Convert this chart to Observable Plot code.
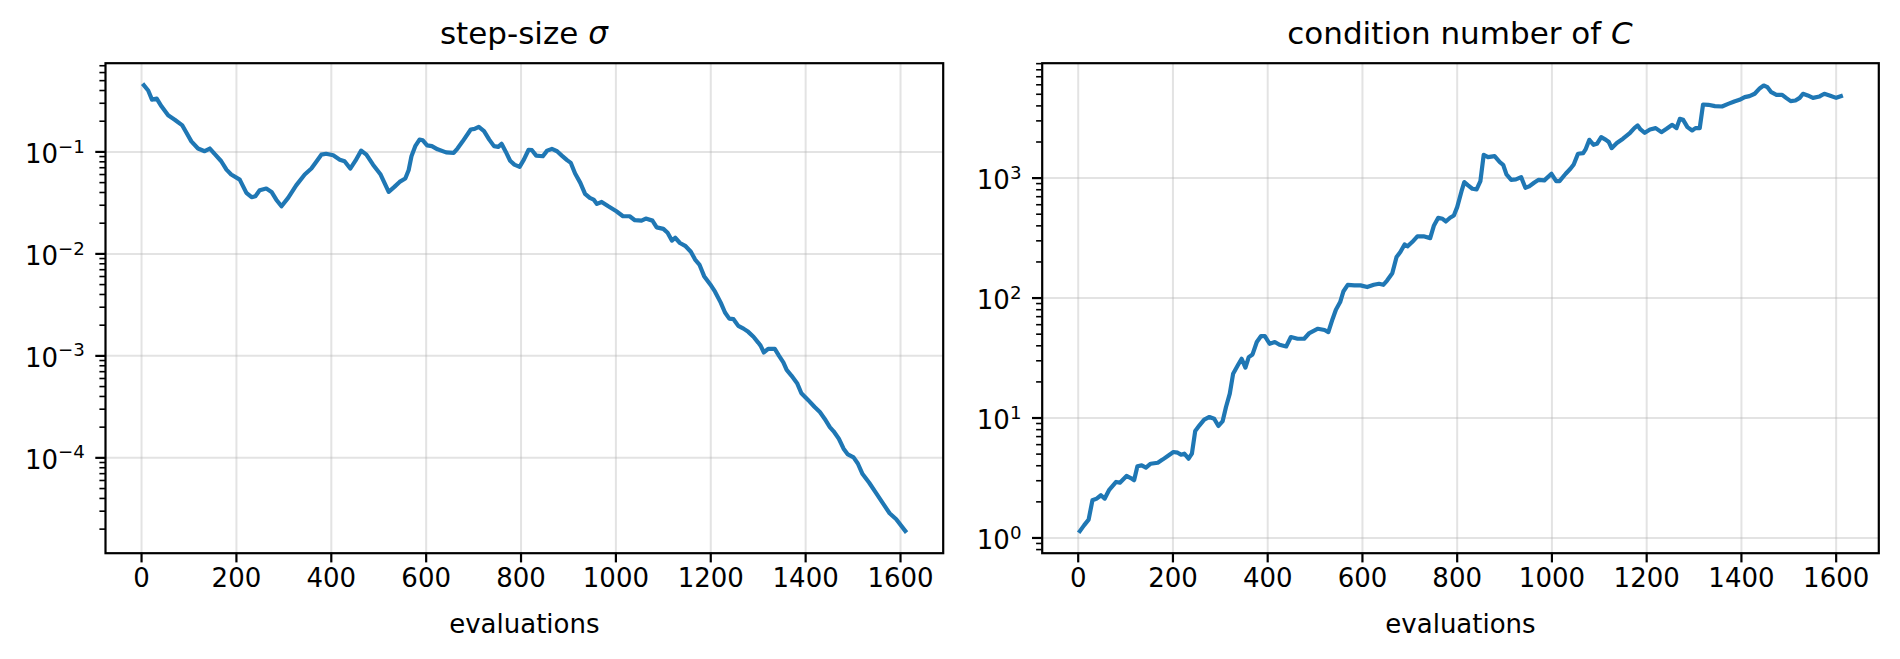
<!DOCTYPE html>
<html>
<head>
<meta charset="utf-8">
<script src="https://cdn.jsdelivr.net/npm/d3@7"></script>
<script src="https://cdn.jsdelivr.net/npm/@observablehq/plot@0.6"></script>
<style>
  html, body { margin: 0; padding: 0; background: #fff; }
  #wrap { position: relative; width: 1900px; height: 659px; font-family: "DejaVu Sans", sans-serif; }
  .panel { position: absolute; top: 0; width: 950px; height: 659px; }
  .title { position: absolute; top: 18px; font-size: 31px; line-height: 31px; text-align: center; white-space: nowrap; color: #000; }
  svg { display: block; }
</style>
</head>
<body>
<div id="wrap">
  <div class="panel" id="left"></div>
  <div class="panel" id="right" style="left:950px"></div>
</div>
<script>
// ---- data ----
const sigmaEvals = [5,14,22,32,42,56,70,86,95,105,119,133,144,154,168,179,189,207,221,232,240,249,263,274,284,295,309,326,344,358,368,379,389,404,418,428,440,451,463,474,488,504,521,533,544,556,563,569,577,586,593,602,612,624,642,658,666,677,694,702,711,722,733,743,752,759,768,777,786,797,806,816,823,832,846,855,865,876,886,897,905,914,925,935,945,953,960,970,984,1001,1015,1029,1040,1054,1063,1077,1086,1100,1109,1118,1125,1135,1147,1158,1167,1176,1186,1199,1209,1221,1230,1239,1248,1258,1269,1279,1290,1300,1305,1312,1321,1335,1344,1353,1360,1370,1382,1391,1405,1419,1430,1440,1451,1459,1470,1480,1489,1501,1510,1520,1534,1549,1563,1577,1591,1610];
const sigmaValues = [0.45,0.40,0.326,0.333,0.28,0.229,0.207,0.182,0.153,0.127,0.108,0.1016,0.108,0.0955,0.081,0.067,0.060,0.0535,0.0397,0.036,0.0368,0.042,0.0437,0.0405,0.034,0.0293,0.0354,0.047,0.060,0.0687,0.0798,0.094,0.096,0.0928,0.084,0.081,0.0687,0.082,0.103,0.094,0.075,0.060,0.0406,0.0454,0.0508,0.0548,0.066,0.0907,0.1137,0.132,0.130,0.116,0.114,0.106,0.099,0.0978,0.108,0.127,0.166,0.168,0.176,0.160,0.132,0.114,0.112,0.12,0.1,0.082,0.075,0.0713,0.084,0.105,0.104,0.092,0.0907,0.103,0.107,0.1015,0.092,0.083,0.078,0.0614,0.0497,0.0388,0.0354,0.0341,0.0309,0.0323,0.0293,0.0262,0.0234,0.0234,0.0214,0.0212,0.0222,0.0212,0.0182,0.0176,0.0161,0.0135,0.0144,0.0128,0.0119,0.0105,0.0088,0.00787,0.00605,0.00502,0.00426,0.00333,0.00266,0.00232,0.00229,0.00197,0.00185,0.00172,0.00154,0.00135,0.00126,0.00108,0.00117,0.00117,0.001,0.000865,0.000728,0.000641,0.00054,0.00043,0.00037,0.000315,0.000281,0.000242,0.0002,0.000182,0.000154,0.000123,0.000108,0.000101,0.000088,0.0000693,0.000057,0.0000449,0.0000358,0.0000286,0.000025,0.0000192];

const condEvals = [3.5,12.7,22,30,39,48,56,65,80,88,102,111,118,125,134,143,153,168,178,189,201,210,217,224,233,240,247,256,266,277,287,296,305,312,320,327,337,345,353,360,368,377,386,394,404,415,425,439,449,463,477,488,506,520,528,537,544,553,560,569,583,596,610,624,635,644,652,663,672,680,689,695,705,716,729,743,751,760,769,776,785,793,800,809,815,823,832,841,849,856,865,879,890,897,904,914,924,935,944,952,963,972,984,999,1009,1016,1029,1039,1046,1055,1066,1071,1079,1088,1095,1104,1114,1120,1126,1137,1150,1165,1174,1181,1187,1196,1207,1219,1231,1242,1254,1263,1270,1277,1286,1296,1303,1312,1319,1330,1344,1359,1372,1385,1396,1407,1417,1428,1439,1447,1455,1463,1474,1486,1495,1504,1514,1523,1530,1540,1551,1565,1575,1586,1600,1610];
const condValues = [1.14,1.28,1.42,2.06,2.13,2.27,2.13,2.50,2.93,2.89,3.29,3.16,3.03,3.96,4.03,3.86,4.16,4.24,4.50,4.82,5.21,5.14,4.95,5.04,4.58,5.04,7.79,8.69,9.69,10.2,9.87,8.58,9.44,12.35,15.95,23.4,27.5,31.2,26.3,32.2,33.9,43,48.2,48.2,41.6,43,40.8,39.5,47.3,45.8,45.8,51.1,55.5,54.2,52.1,67,80,92.6,114,129,127.6,127.6,123.6,129,131.5,129,140,161,220,241.7,280,270,293,327,327,316,403,467,458,435,467,488,573,774,926,869,815,805,944,1565,1496,1525,1360,1292,1073,968,975,1019,830,853,920,968,957,1087,944,944,1087,1196,1300,1596,1616,1733,2086,1896,1931,2197,2086,2000,1778,1960,2130,2387,2610,2748,2546,2387,2546,2610,2416,2578,2782,2610,3120,3060,2660,2497,2610,2610,4110,4085,3981,3955,4160,4353,4496,4732,4822,5047,5623,5916,5730,5207,4948,4948,4642,4385,4437,4668,5047,4889,4668,4797,5047,4889,4668,4822];

const xTicks = [0,200,400,600,800,1000,1200,1400,1600];
const sigmaMajor = [1e-4,1e-3,1e-2,1e-1];
const sigmaExponents = ["−4","−3","−2","−1"];
const condMajor = [1,10,100,1000];
const condExponents = ["0","1","2","3"];

const titles = ["step-size <i>σ</i>", "condition number of <i>C</i>"];
const xLabel = "evaluations";

// ---- helpers ----
function minorTicks(domain) {
  const out = [];
  const lo = Math.floor(Math.log10(domain[0])), hi = Math.ceil(Math.log10(domain[1]));
  for (let e = lo; e <= hi; e++) for (let k = 2; k <= 9; k++) {
    const v = k * Math.pow(10, e);
    if (v >= domain[0] && v <= domain[1]) out.push(v);
  }
  return out;
}

const FONT = 26;
const LINE = "#1f77b4";
const SEP = "\u2063";

function panel(el, evals, values, yDomain, major, exponents, title, m) {
  const data = evals.map((x, i) => ({x, y: values[i]}));
  const expOf = new Map(major.map((v, i) => [v, exponents[i]]));
  const chart = Plot.plot({
    width: 950, height: 659,
    marginLeft: m.left, marginRight: m.right, marginTop: 62.7, marginBottom: 106.3,
    style: {fontFamily: "DejaVu Sans, sans-serif", fontSize: FONT + "px", background: "#fff", color: "#000"},
    x: {domain: [-76, 1690]},
    y: {type: "log", domain: yDomain},
    marks: [
      Plot.gridX(xTicks, {stroke: "#b0b0b0", strokeOpacity: 0.35, strokeWidth: 2}),
      Plot.gridY(major, {stroke: "#b0b0b0", strokeOpacity: 0.35, strokeWidth: 2}),
      Plot.line(data, {x: "x", y: "y", stroke: LINE, strokeWidth: 4.2, strokeLinejoin: "round", strokeLinecap: "square"}),
      Plot.axisX(xTicks, {tickSize: 9.7, tickPadding: 6, strokeWidth: 2.2, fontSize: FONT, label: null, tickFormat: d => String(d)}),
      Plot.axisY(minorTicks(yDomain), {tickSize: 5.6, strokeWidth: 1.6, tickFormat: () => "", label: null}),
      Plot.axisY(major, {tickSize: 9.7, tickPadding: 11, strokeWidth: 2.2, fontSize: FONT, label: null, tickFormat: d => "10" + SEP + expOf.get(d)}),
      Plot.text([xLabel], {text: d => d, frameAnchor: "bottom", lineAnchor: "top", dy: 61, fontSize: FONT}),
      Plot.frame({stroke: "#000", strokeWidth: 2.2})
    ]
  });
  // render the exponent of each major y label as a raised, smaller tspan (like matplotlib mathtext)
  chart.querySelectorAll("text").forEach(t => {
    const s = t.textContent;
    if (!s.includes(SEP)) return;
    const [base, exp] = s.split(SEP);
    while (t.firstChild) t.removeChild(t.firstChild);
    const ns = "http://www.w3.org/2000/svg";
    const a = document.createElementNS(ns, "tspan");
    a.setAttribute("dy", "3");
    a.textContent = base;
    const b = document.createElementNS(ns, "tspan");
    b.setAttribute("dy", "-10.7");
    b.setAttribute("font-size", (FONT * 0.7).toFixed(1));
    b.textContent = exp;
    t.appendChild(a);
    t.appendChild(b);
  });
  el.appendChild(chart);
  const t = document.createElement("div");
  t.className = "title";
  t.innerHTML = title;
  const cx = m.left + (950 - m.left - m.right) / 2;
  t.style.left = (cx - 300) + "px";
  t.style.width = "600px";
  el.appendChild(t);
}

panel(document.getElementById("left"), sigmaEvals, sigmaValues,
      [Math.pow(10, -4.935), Math.pow(10, -0.13)], sigmaMajor, sigmaExponents, titles[0],
      {left: 105, right: 7.3});
panel(document.getElementById("right"), condEvals, condValues,
      [Math.pow(10, -0.127), Math.pow(10, 3.958)], condMajor, condExponents, titles[1],
      {left: 91.7, right: 21.7});
</script>
</body>
</html>
